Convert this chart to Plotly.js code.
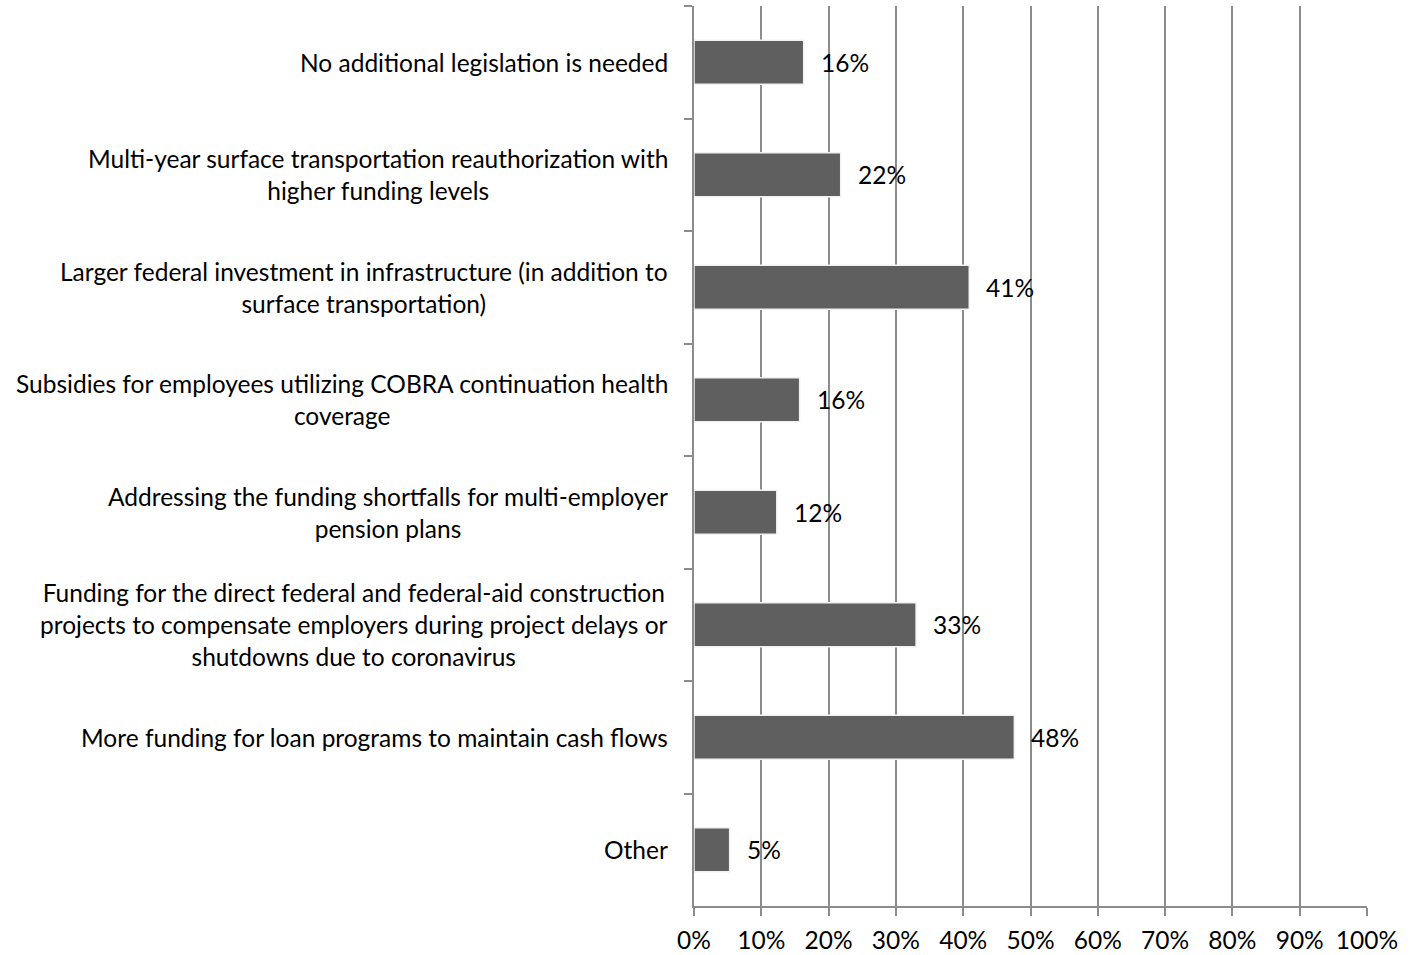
<!DOCTYPE html>
<html>
<head>
<meta charset="utf-8">
<script src="https://cdn.plot.ly/plotly-3.0.1.min.js"></script>
<style>html,body{margin:0;padding:0;background:#fff;}#chart{width:1417px;height:955px;}</style>
</head>
<body>
<div id="chart"></div>
<script>
var categories = [
  "No additional legislation is needed",
  "Multi-year surface transportation reauthorization with<br>higher funding levels",
  "Larger federal investment in infrastructure (in addition to<br>surface transportation)",
  "Subsidies for employees utilizing COBRA continuation health<br>coverage",
  "Addressing the funding shortfalls for multi-employer<br>pension plans",
  "Funding for the direct federal and federal-aid construction<br>projects to compensate employers during project delays or<br>shutdowns due to coronavirus",
  "More funding for loan programs to maintain cash flows",
  "Other"
];
var values = [16.3, 21.8, 40.9, 15.7, 12.3, 33.0, 47.6, 5.3];
var valueLabels = ["16%", "22%", "41%", "16%", "12%", "33%", "48%", "5%"];
var xTickVals = [0, 10, 20, 30, 40, 50, 60, 70, 80, 90, 100];
var xTickText = ["0%", "10%", "20%", "30%", "40%", "50%", "60%", "70%", "80%", "90%", "100%"];

var fontFam = "Lato, 'Open Sans', sans-serif";
var fs = 24.5;

var bars = {
  type: "bar",
  orientation: "h",
  y: categories,
  x: values,
  marker: {color: "#5f5f5f", line: {color: "#f2f2f2", width: 1.5}},
  hoverinfo: "skip",
  showlegend: false
};

var annotations = [];
categories.forEach(function (c, i) {
  annotations.push({
    xref: "paper", yref: "y",
    x: -24 / 672.4, y: c,
    xanchor: "right", yanchor: "middle",
    align: "center",
    text: c, showarrow: false,
    font: {family: fontFam, size: fs, color: "#000"}
  });
  annotations.push({
    xref: "x", yref: "y",
    x: values[i], y: c,
    xanchor: "left", yanchor: "middle",
    xshift: 15,
    text: valueLabels[i], showarrow: false,
    font: {family: fontFam, size: fs, color: "#000"}
  });
});

var layout = {
  width: 1417,
  height: 955,
  margin: {l: 694, r: 50, t: 6, b: 49},
  paper_bgcolor: "#fff",
  plot_bgcolor: "#fff",
  bargap: 0.61,
  font: {family: fontFam, size: fs, color: "#000"},
  annotations: annotations,
  xaxis: {
    range: [0, 100],
    tickvals: xTickVals,
    ticktext: xTickText,
    showgrid: true,
    gridcolor: "#8c8c8c",
    gridwidth: 2,
    zeroline: false,
    showline: true,
    linecolor: "#8c8c8c",
    linewidth: 2,
    ticks: "outside",
    ticklen: 8,
    tickwidth: 2,
    tickcolor: "#8c8c8c",
    ticklabelstandoff: 4,
    tickfont: {family: fontFam, size: fs, color: "#000"},
    fixedrange: true
  },
  yaxis: {
    type: "category",
    autorange: "reversed",
    showgrid: false,
    zeroline: false,
    showline: true,
    linecolor: "#8c8c8c",
    linewidth: 2,
    ticks: "outside",
    tickson: "boundaries",
    ticklen: 8,
    tickwidth: 2,
    tickcolor: "#8c8c8c",
    showticklabels: false,
    fixedrange: true
  }
};

Plotly.newPlot("chart", [bars], layout, {displayModeBar: false, staticPlot: true});
</script>
</body>
</html>
